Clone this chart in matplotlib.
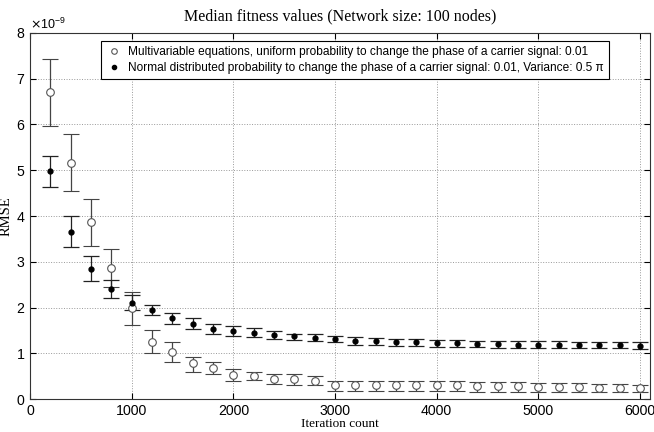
import matplotlib.pyplot as plt
import numpy as np
from matplotlib.lines import Line2D
from matplotlib.ticker import ScalarFormatter

# iteration counts
iters = [200, 400, 600, 800, 1000, 1200, 1400, 1600, 1800, 2000,
         2200, 2400, 2600, 2800, 3000, 3200, 3400, 3600, 3800, 4000,
         4200, 4400, 4600, 4800, 5000, 5200, 5400, 5600, 5800, 6000]

# uniform probability series (x 1e-9): median, lower, upper
uni_med = [6.70, 5.15, 3.86, 2.87, 1.98, 1.25, 1.03, 0.78, 0.68, 0.53,
           0.50, 0.45, 0.43, 0.40, 0.30, 0.30, 0.30, 0.30, 0.30, 0.30,
           0.30, 0.28, 0.28, 0.28, 0.27, 0.27, 0.27, 0.25, 0.25, 0.25]
uni_low = [5.97, 4.55, 3.35, 2.45, 1.62, 1.00, 0.81, 0.60, 0.55, 0.40,
           0.42, 0.33, 0.30, 0.30, 0.17, 0.17, 0.17, 0.17, 0.17, 0.17,
           0.17, 0.16, 0.16, 0.16, 0.16, 0.16, 0.16, 0.15, 0.15, 0.16]
uni_high = [7.42, 5.78, 4.37, 3.28, 2.33, 1.50, 1.25, 0.93, 0.82, 0.66,
            0.60, 0.55, 0.55, 0.50, 0.40, 0.40, 0.40, 0.40, 0.40, 0.40,
            0.40, 0.38, 0.38, 0.38, 0.36, 0.36, 0.36, 0.34, 0.34, 0.32]

# normal distributed series (x 1e-9): median, lower, upper
nor_med = [4.98, 3.66, 2.85, 2.40, 2.10, 1.95, 1.77, 1.65, 1.54, 1.48,
           1.45, 1.40, 1.37, 1.33, 1.32, 1.27, 1.26, 1.24, 1.24, 1.22,
           1.22, 1.20, 1.20, 1.19, 1.19, 1.19, 1.18, 1.18, 1.18, 1.17]
nor_low = [4.63, 3.32, 2.58, 2.22, 1.95, 1.83, 1.65, 1.53, 1.43, 1.37,
           1.35, 1.32, 1.30, 1.27, 1.25, 1.19, 1.18, 1.16, 1.16, 1.14,
           1.15, 1.13, 1.12, 1.12, 1.12, 1.12, 1.11, 1.11, 1.11, 1.10]
nor_high = [5.32, 4.00, 3.12, 2.60, 2.27, 2.05, 1.88, 1.77, 1.65, 1.60,
            1.55, 1.48, 1.43, 1.42, 1.38, 1.35, 1.34, 1.32, 1.31, 1.30,
            1.30, 1.27, 1.27, 1.26, 1.26, 1.26, 1.25, 1.25, 1.25, 1.24]

label_uni = 'Multivariable equations, uniform probability to change the phase of a carrier signal: 0.01'
label_nor = 'Normal distributed probability to change the phase of a carrier signal: 0.01, Variance: 0.5 \u03c0'

scale = 1e-9
x = np.array(iters)
um, ul, uh = [np.array(a) * scale for a in (uni_med, uni_low, uni_high)]
nm, nl, nh = [np.array(a) * scale for a in (nor_med, nor_low, nor_high)]

plt.rcParams['font.family'] = ['Liberation Sans', 'DejaVu Sans']

fig = plt.figure(figsize=(6.54, 4.32), dpi=100)
ax = fig.add_axes([0.046, 0.076, 0.948, 0.848])

ax.errorbar(x, um, yerr=[um - ul, uh - um], fmt='o', mfc='white', mec='#555555',
            mew=0.8, ms=5.5, ecolor='#444444', elinewidth=0.9, capsize=6,
            capthick=0.9, zorder=3)
ax.errorbar(x, nm, yerr=[nm - nl, nh - nm], fmt='o', mfc='black', mec='black',
            ms=3.5, ecolor='#222222', elinewidth=0.9, capsize=6,
            capthick=0.9, zorder=3)

ax.set_xlim(0, 6100)
ax.set_ylim(0, 8e-9)
ax.set_xticks([0, 1000, 2000, 3000, 4000, 5000, 6000])
ax.set_yticks(np.arange(0, 9) * scale)
fmt = ScalarFormatter(useMathText=True)
fmt.set_powerlimits((-3, 3))
ax.yaxis.set_major_formatter(fmt)
ax.yaxis.get_offset_text().set_fontsize(9)
ax.yaxis.get_offset_text().set_x(0.0)

ax.tick_params(direction='in', top=True, right=True, labelsize=10.2, length=4)
ax.grid(True, linestyle=':', color='#999999', linewidth=0.7)
for s in ax.spines.values():
    s.set_linewidth(0.8)
    s.set_color('#333333')

ax.set_title('Median fitness values (Network size: 100 nodes)',
             fontfamily='Liberation Serif', fontsize=11.5, pad=9)
ax.set_xlabel('Iteration count', fontfamily='Liberation Serif', fontsize=9.5, labelpad=0)
ax.set_ylabel('RMSE', fontfamily='Liberation Serif', fontsize=10.5, labelpad=2)

# legend shows markers only
h_uni = Line2D([], [], ls='none', marker='o', mfc='white', mec='#555555', mew=0.8, ms=4)
h_nor = Line2D([], [], ls='none', marker='o', mfc='black', mec='black', ms=3)
leg = ax.legend([h_uni, h_nor], [label_uni, label_nor], loc='upper left',
                bbox_to_anchor=(0.105, 0.994), fontsize=8.55, handletextpad=0.5,
                handlelength=1.4, fancybox=False, framealpha=1,
                borderpad=0.4, labelspacing=0.4)
leg.get_frame().set_edgecolor('black')
leg.get_frame().set_linewidth(0.8)

fig.savefig('out.png', dpi=100)
